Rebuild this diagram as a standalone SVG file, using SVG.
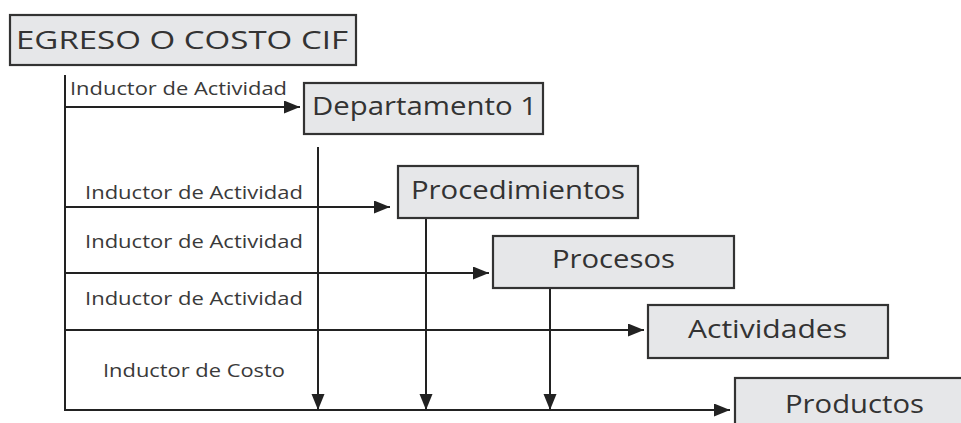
<svg xmlns="http://www.w3.org/2000/svg" width="961" height="423" viewBox="0 0 961 423">
<style>
.box{fill:#e6e7e9;stroke:#333;stroke-width:2.2}
.t{font-family:"Open Sans","DejaVu Sans",sans-serif;fill:#333;font-size:25px}
.lbl{font-family:"Open Sans","DejaVu Sans",sans-serif;fill:#3a3a3a;font-size:18px}
.ln{stroke:#222;stroke-width:2;fill:none}
.ar{marker-end:url(#ah)}
</style>
<defs>
<marker id="ah" markerUnits="userSpaceOnUse" markerWidth="17" markerHeight="14" refX="16" refY="6.5" orient="auto">
<path d="M0,0 L16,6.5 L0,13 z" fill="#222"/>
</marker>
</defs>
<rect width="961" height="423" fill="#fff"/>
<g id="connectors">
<line class="ln" x1="65" y1="75" x2="65" y2="411"/>
<line class="ln ar" x1="65" y1="107" x2="300" y2="107"/>
<line class="ln ar" x1="65" y1="207" x2="390" y2="207"/>
<line class="ln ar" x1="65" y1="273" x2="489" y2="273"/>
<line class="ln ar" x1="65" y1="330" x2="644" y2="330"/>
<line class="ln ar" x1="65" y1="410" x2="730" y2="410"/>
<line class="ln ar" x1="318" y1="147" x2="318" y2="410"/>
<line class="ln ar" x1="426" y1="218" x2="426" y2="410"/>
<line class="ln ar" x1="550" y1="288" x2="550" y2="410"/>
</g>
<g id="labels">
<text class="lbl" x="70" y="95" textLength="217" lengthAdjust="spacingAndGlyphs">Inductor de Actividad</text>
<text class="lbl" x="85" y="199" textLength="218" lengthAdjust="spacingAndGlyphs">Inductor de Actividad</text>
<text class="lbl" x="85" y="248" textLength="218" lengthAdjust="spacingAndGlyphs">Inductor de Actividad</text>
<text class="lbl" x="85" y="305" textLength="218" lengthAdjust="spacingAndGlyphs">Inductor de Actividad</text>
<text class="lbl" x="103" y="377" textLength="182" lengthAdjust="spacingAndGlyphs">Inductor de Costo</text>
</g>
<g id="egreso">
<rect class="box" x="10" y="15" width="346" height="50"/>
<text class="t" x="16" y="49" font-size="27" textLength="332" lengthAdjust="spacingAndGlyphs">EGRESO O COSTO CIF</text>
</g>
<g id="departamento">
<rect class="box" x="304" y="83" width="239" height="51"/>
<text class="t" x="312" y="115" textLength="225" lengthAdjust="spacingAndGlyphs">Departamento 1</text>
</g>
<g id="procedimientos">
<rect class="box" x="398" y="166" width="240" height="52"/>
<text class="t" x="411" y="199" textLength="214" lengthAdjust="spacingAndGlyphs">Procedimientos</text>
</g>
<g id="procesos">
<rect class="box" x="493" y="236" width="241" height="52"/>
<text class="t" x="552" y="268" textLength="123" lengthAdjust="spacingAndGlyphs">Procesos</text>
</g>
<g id="actividades">
<rect class="box" x="648" y="305" width="240" height="53"/>
<text class="t" x="688" y="338" textLength="159" lengthAdjust="spacingAndGlyphs">Actividades</text>
</g>
<g id="productos">
<rect class="box" x="735" y="378" width="240" height="60"/>
<text class="t" x="785" y="413" textLength="139" lengthAdjust="spacingAndGlyphs">Productos</text>
</g>
</svg>
